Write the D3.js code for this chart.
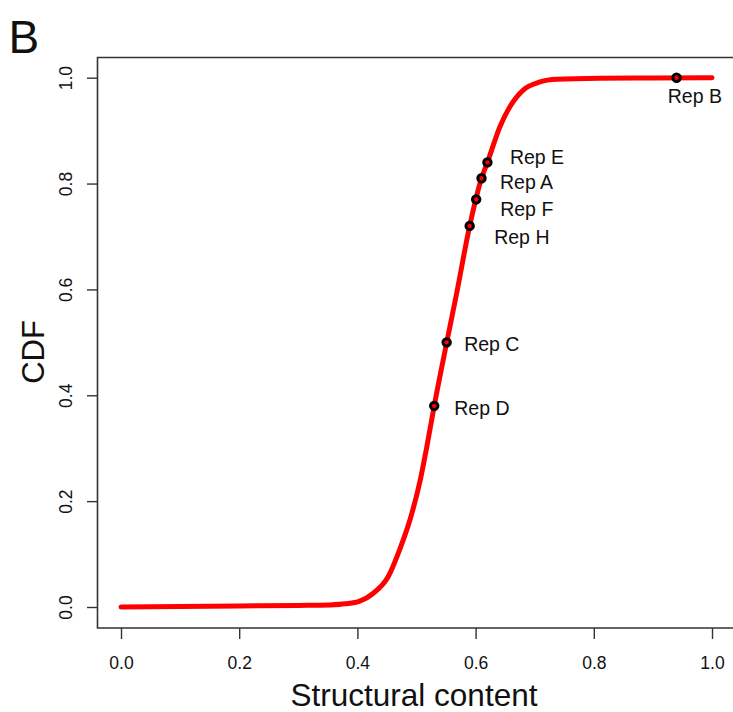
<!DOCTYPE html>
<html>
<head>
<meta charset="utf-8">
<script src="https://cdn.jsdelivr.net/npm/d3@7"></script>
<style>
  html, body { margin: 0; padding: 0; background: #fff; }
  svg { display: block; font-family: "Liberation Sans", Arial, Helvetica, sans-serif; }
</style>
</head>
<body>
<svg id="chart" width="733" height="712"></svg>
<script>
// ---- data ----
const cdfX = [0.0, 0.10, 0.20, 0.30, 0.354, 0.38, 0.404, 0.427, 0.452, 0.472, 0.489, 0.506, 0.517, 0.530, 0.551, 0.568, 0.590, 0.610, 0.620, 0.641, 0.658, 0.681, 0.709, 0.737, 0.810, 0.90, 1.0];
const cdfY = [0.0, 0.001, 0.002, 0.003, 0.004, 0.006, 0.011, 0.026, 0.057, 0.110, 0.165, 0.238, 0.300, 0.380, 0.499, 0.593, 0.720, 0.810, 0.840, 0.907, 0.945, 0.977, 0.992, 0.997, 0.999, 0.9995, 1.0];

const repNames = ["Rep E", "Rep A", "Rep F", "Rep H", "Rep C", "Rep D", "Rep B"];
const repX = [0.620, 0.610, 0.601, 0.590, 0.551, 0.530, 0.940];
const repY = [0.840, 0.810, 0.770, 0.720, 0.500, 0.380, 1.000];

const xTicks = [0.0, 0.2, 0.4, 0.6, 0.8, 1.0];
const yTicks = [0.0, 0.2, 0.4, 0.6, 0.8, 1.0];

const panelLetter = "B";
const xTitle = "Structural content";
const yTitle = "CDF";

// ---- layout ----
const svg = d3.select("#chart");
const x = d3.scaleLinear().domain([0, 1]).range([121, 712]);
const y = d3.scaleLinear().domain([0, 1]).range([607, 77.7]);
const box = { left: 97.5, top: 57.5, bottom: 628, right: 745 };

// label offsets (px) relative to point
const labelPos = {
  "Rep E": { dx: 22.5, dy: 2, anchor: "start" },
  "Rep A": { dx: 18.5, dy: 10.3, anchor: "start" },
  "Rep F": { dx: 24, dy: 16.7, anchor: "start" },
  "Rep H": { dx: 24.5, dy: 18.3, anchor: "start" },
  "Rep C": { dx: 17.5, dy: 9, anchor: "start" },
  "Rep D": { dx: 20, dy: 9, anchor: "start" },
  "Rep B": { dx: 18.3, dy: 25.6, anchor: "middle" }
};

// box
svg.append("path")
  .attr("d", `M${box.right},${box.top}H${box.left}V${box.bottom}H${box.right}`)
  .attr("fill", "none").attr("stroke", "#333").attr("stroke-width", 1.6);

// x axis
const xAxis = d3.axisBottom(x).tickValues(xTicks).tickFormat(d3.format(".1f"))
  .tickSize(11).tickPadding(6);
const gx = svg.append("g").attr("transform", `translate(0,${box.bottom})`).call(xAxis);
gx.select(".domain").remove();
gx.selectAll(".tick line").attr("stroke", "#333").attr("stroke-width", 1.4);
gx.selectAll(".tick text").attr("font-size", 17.5).attr("fill", "#111")
  .attr("font-family", "Liberation Sans, Arial, sans-serif")
  .attr("dy", null).attr("y", 40.5);

// y axis
const yAxis = d3.axisLeft(y).tickValues(yTicks).tickFormat(d3.format(".1f"))
  .tickSize(10.5).tickPadding(6);
const gy = svg.append("g").attr("transform", `translate(${box.left},0)`).call(yAxis);
gy.select(".domain").remove();
gy.selectAll(".tick line").attr("stroke", "#333").attr("stroke-width", 1.4);
gy.selectAll(".tick text").attr("font-size", 17.5).attr("fill", "#111")
  .attr("font-family", "Liberation Sans, Arial, sans-serif")
  .attr("x", null).attr("dy", null)
  .attr("text-anchor", "middle")
  .attr("transform", "translate(-26,0) rotate(-90)");

// curve
const pts = cdfX.map((v, i) => [v, cdfY[i]]);
const line = d3.line().x(d => x(d[0])).y(d => y(d[1])).curve(d3.curveMonotoneX);
svg.append("path").datum(pts).attr("d", line)
  .attr("fill", "none").attr("stroke", "#ff0000").attr("stroke-width", 5)
  .attr("stroke-linecap", "round").attr("stroke-linejoin", "round");

// points
const reps = repNames.map((n, i) => ({ name: n, vx: repX[i], vy: repY[i] }));
svg.selectAll("circle.rep").data(reps).enter().append("circle")
  .attr("class", "rep")
  .attr("cx", d => x(d.vx)).attr("cy", d => y(d.vy)).attr("r", 3.7)
  .attr("fill", "none").attr("stroke", "#000").attr("stroke-width", 3);

svg.selectAll("text.replab").data(reps).enter().append("text")
  .attr("class", "replab")
  .attr("x", d => x(d.vx) + labelPos[d.name].dx)
  .attr("y", d => y(d.vy) + labelPos[d.name].dy)
  .attr("text-anchor", d => labelPos[d.name].anchor)
  .attr("font-size", 19.5).attr("fill", "#111")
  .text(d => d.name);

// titles
svg.append("text").attr("x", 414).attr("y", 706).attr("text-anchor", "middle")
  .attr("font-size", 31.5).attr("fill", "#111").text(xTitle);
svg.append("text").attr("transform", "translate(43.5,352) rotate(-90)")
  .attr("text-anchor", "middle").attr("font-size", 31).attr("fill", "#111").text(yTitle);
svg.append("text").attr("x", 8.5).attr("y", 52.7)
  .attr("font-size", 46).attr("fill", "#111").text(panelLetter);
</script>
</body>
</html>
